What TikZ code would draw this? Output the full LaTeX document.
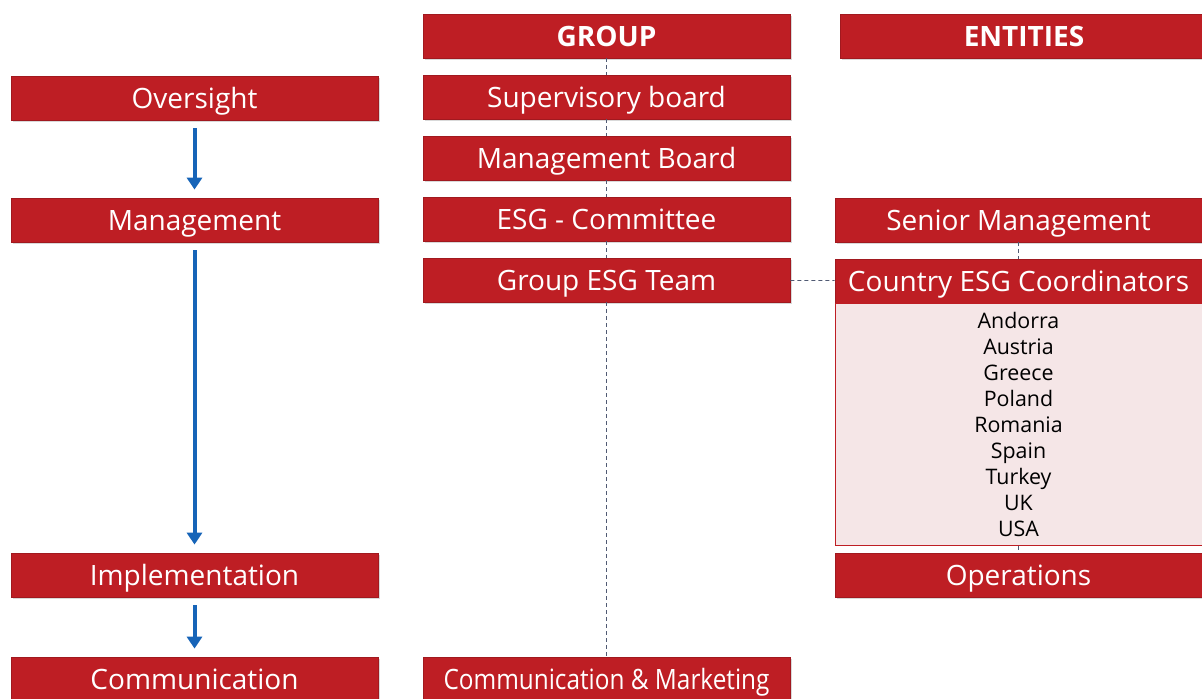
\documentclass[tikz,border=0pt]{standalone}
\usepackage{fontspec}
\setmainfont{Open Sans}
\usetikzlibrary{arrows.meta,shadows,positioning}

\definecolor{esgred}{RGB}{190,30,36}
\definecolor{esgpink}{RGB}{245,230,231}
\definecolor{esgblue}{RGB}{22,100,184}
\definecolor{linkgray}{RGB}{80,90,115}

\begin{document}
\begin{tikzpicture}[x=0.5pt, y=-0.5pt, node distance=30.5pt,
    redbox/.style={draw=esgred!85!black, fill=esgred, text=white, inner sep=0pt,
        minimum width=183.5pt, minimum height=22pt, text height=11.5pt, text depth=1.5pt,
        font=\fontsize{14}{16}\selectfont,
        drop shadow={shadow xshift=1.2pt, shadow yshift=-1.2pt, opacity=0.3}},
    headbox/.style={redbox, font=\fontsize{14}{16}\selectfont\bfseries},
    listbox/.style={draw=esgred, fill=esgpink, inner sep=0pt, align=center,
        minimum width=183.5pt, minimum height=121pt,
        font=\fontsize{10.7}{13}\selectfont},
    flow/.style={->, >={Triangle[width=7.5pt, length=6pt]}, draw=esgblue,
        line width=2pt, shorten <=4pt, shorten >=4pt},
    link/.style={draw=linkgray, line width=0.4pt, dash pattern=on 2pt off 1.5pt}]

    \useasboundingbox (0,0) rectangle (1202,698);
    \clip (0,0) rectangle (1202,698);

    % levels
    \node[redbox] (oversight) at (194.5,98) {Oversight};
    \node[redbox] (management) at (194.5,220) {Management};
    \node[redbox] (implementation) at (194.5,575) {Implementation};
    \node[redbox] (communication) at (194.5,679) {Communication};

    % group column
    \node[headbox] (group) at (606.5,36) {GROUP};
    \node[redbox] (supervisory) [below of=group] {Supervisory board};
    \node[redbox] (mboard) [below of=supervisory] {Management Board};
    \node[redbox] (committee) [below of=mboard] {ESG - Committee};
    \node[redbox] (team) [below of=committee] {Group ESG Team};
    \node[redbox] (commkt) at (606.5,679) {\scalebox{0.87}[1]{Communication \& Marketing}};

    % entities column
    \node[headbox, minimum width=184pt] (entities) at (1024,36) {ENTITIES};
    \node[redbox] (senior) at (1018.5,220) {Senior Management};
    \node[redbox] (country) at (1018.5,281) {Country ESG Coordinators};
    \node[listbox, below=0pt of country] (countries) {Andorra\\Austria\\Greece\\Poland\\Romania\\Spain\\Turkey\\UK\\USA};
    \node[redbox] (operations) at (1018.5,575) {Operations};

    \foreach \a/\b in {group/supervisory, supervisory/mboard, mboard/committee,
        committee/team, team/commkt, senior/country, countries/operations, team/country}
        \draw[link] (\a) -- (\b);

    \draw[flow] (oversight) -- (management);
    \draw[flow] (management) -- (implementation);
    \draw[flow] (implementation) -- (communication);
\end{tikzpicture}
\end{document}
